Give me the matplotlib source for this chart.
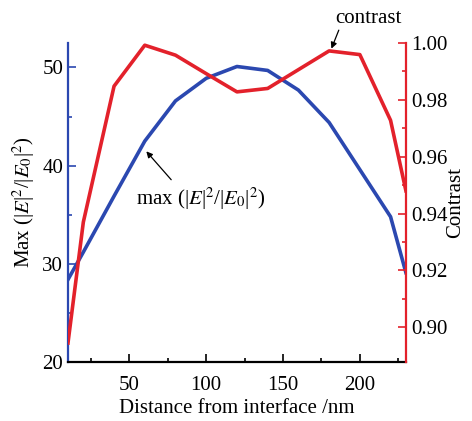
import matplotlib.pyplot as plt
import matplotlib

matplotlib.rcParams['font.family'] = ['Liberation Serif', 'DejaVu Serif']
matplotlib.rcParams['mathtext.fontset'] = 'stix'

# data
distance = [10, 20, 40, 60, 80, 100, 120, 140, 160, 180, 200, 220, 230]
max_field = [28.4, 31.2, 36.9, 42.5, 46.6, 48.9, 50.1, 49.7, 47.7, 44.4, 39.6, 34.8, 29.1]
contrast = [0.8945, 0.937, 0.9848, 0.9992, 0.9957, 0.9892, 0.9828, 0.984,
            0.9906, 0.9972, 0.9959, 0.9728, 0.948]

blue = '#2b48b0'
red = '#e3212b'

fig = plt.figure(figsize=(4.72, 4.21), dpi=100)
ax = fig.add_axes([0.144, 0.140, 0.716, 0.758])
ax2 = ax.twinx()

ax.plot(distance, max_field, color=blue, lw=2.6)
ax2.plot(distance, contrast, color=red, lw=2.6)

ax.set_xlim(10, 230)
ax.set_ylim(20, 52.5)
ax2.set_ylim(0.8878, 1.0)

ax.set_xticks([50, 100, 150, 200])
ax.set_xticks([25, 75, 125, 175, 225], minor=True)
ax.set_yticks([20, 30, 40, 50])
ax.set_yticks([25, 35, 45], minor=True)
ax2.set_yticks([0.90, 0.92, 0.94, 0.96, 0.98, 1.00])
ax2.set_yticks([0.91, 0.93, 0.95, 0.97, 0.99], minor=True)
ax2.set_yticklabels(['0.90', '0.92', '0.94', '0.96', '0.98', '1.00'])

for a in (ax, ax2):
    a.spines['top'].set_visible(False)
ax.spines['right'].set_visible(False)
ax2.spines['left'].set_visible(False)
ax2.spines['bottom'].set_visible(False)
ax.spines['left'].set_color(blue)
ax.spines['left'].set_linewidth(1.6)
ax2.spines['right'].set_color(red)
ax2.spines['right'].set_linewidth(1.6)
ax.spines['bottom'].set_linewidth(1.6)

ax.tick_params(axis='x', which='both', direction='in', labelsize=15, width=1.2, pad=10)
ax.tick_params(axis='x', which='major', length=6)
ax.tick_params(axis='x', which='minor', length=3)
ax.tick_params(axis='y', which='both', direction='in', colors=blue, labelcolor='black',
               labelsize=15, width=1.2)
ax.tick_params(axis='y', which='major', length=6)
ax.tick_params(axis='y', which='minor', length=3)
ax2.tick_params(axis='y', which='both', direction='in', colors=red, labelcolor='black',
                labelsize=15, width=1.2)
ax2.tick_params(axis='y', which='major', length=6)
ax2.tick_params(axis='y', which='minor', length=3)

ax.set_xlabel('Distance from interface /nm', fontsize=15, labelpad=3)
ax.set_ylabel(r'Max (|$E$|$^2$/|$E_0$|$^2$)', fontsize=15, labelpad=4)
ax2.set_ylabel('Contrast', fontsize=15, labelpad=-1)

ax2.annotate('', xy=(181.5, 0.998), xytext=(186.3, 1.0045), annotation_clip=False,
             arrowprops=dict(arrowstyle='-|>', color='black', lw=0.9, mutation_scale=9,
                             shrinkA=0, shrinkB=0))
ax2.text(205.7, 1.0087, 'contrast', fontsize=15, ha='center', va='center', clip_on=False)

ax.annotate('', xy=(61.0, 41.46), xytext=(77.2, 38.57),
            arrowprops=dict(arrowstyle='-|>', color='black', lw=0.9, mutation_scale=9,
                            shrinkA=0, shrinkB=0))
ax.text(96.2, 36.6, r'max (|$E$|$^2$/|$E_0$|$^2$)', fontsize=15, ha='center', va='center')

fig.savefig('out.png', dpi=100)
